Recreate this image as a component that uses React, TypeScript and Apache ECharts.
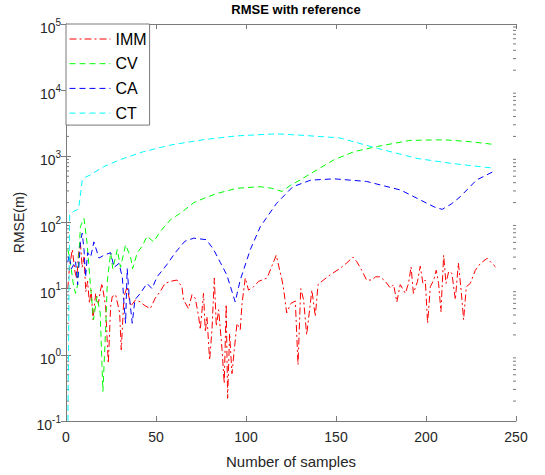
import React, { useEffect, useRef } from "react";
import * as echarts from "echarts";

// RMSE of each filter against the reference trajectory, as [sample, RMSE (m)] pairs.
const immData: [number, number][] = [
  [1, 10], [2, 22], [3.5, 39], [5, 18], [6, 14], [7, 35], [8, 49], [9, 21], [10, 30],
  [11, 9], [12, 13], [13, 6], [14, 9.5], [15, 3.4], [16.5, 8.5], [18, 6], [19, 9], [20, 12],
  [22, 5.4], [23.5, 0.74], [24.8, 5.4], [25.7, 7.6], [27.6, 8.1], [29.8, 4.3], [30.7, 1.19],
  [32.2, 7.6], [34, 10.7], [35.9, 5.4], [38.7, 6.8], [41.3, 6.3], [44, 5.5], [46.8, 5.0],
  [49.6, 7.2], [52.4, 9.1], [55, 12], [58, 12.9], [61.6, 13.5], [64.4, 10.7], [65.3, 6.8],
  [68, 5.0], [70, 8.1], [71.8, 7.2], [73.7, 3.8], [74.6, 2.4], [76.4, 8.5], [77.4, 2.2],
  [78.3, 3.8], [79.8, 0.83], [81.1, 2.4], [82.4, 14.5], [83.5, 2.7], [84.8, 4.8], [86.7, 1.2],
  [87.9, 0.37], [89, 5.8], [89.8, 0.22], [90.9, 2.1], [92.2, 0.52], [93.5, 1.2], [95, 3.0],
  [96.8, 2.4], [97.8, 6.0], [99.6, 14.5], [101.4, 9.5], [104.2, 10.7], [107, 12.9],
  [111.7, 14.5], [116.8, 32], [120, 13.5], [121, 9.5], [122.6, 4.3], [125, 6.0], [127.4, 6.5],
  [128.9, 0.71], [130.4, 10], [132, 6.8], [133.7, 2.0], [136.6, 9.5], [138.5, 3.8], [140, 11.5],
  [143, 13.5], [146.8, 16.2], [152.4, 20.4], [156, 24.5], [159.4, 30], [161.5, 25.7],
  [164.3, 19], [167, 13.5], [170, 13.5], [172, 15.1], [174.6, 15.1], [177.4, 12.9],
  [180.2, 10.2], [182, 11.5], [183.8, 6.3], [185.7, 11.5], [188.5, 8.5], [190.3, 12],
  [191.7, 21.4], [193, 8.5], [195.3, 12.9], [196.8, 21.9], [198.3, 12], [199.6, 13.5],
  [200.9, 3.0], [202.4, 10.7], [204.3, 13.5], [205.7, 19], [207, 12], [208.3, 4.5],
  [209.8, 32], [211.1, 12], [212.6, 18.2], [214.4, 17], [216.3, 6.8], [218, 24.5],
  [219.5, 9.5], [220.9, 3.4], [222.4, 10.7], [224.6, 12], [227.4, 19], [230.2, 24],
  [234, 28.8], [236.7, 24], [238.6, 21.4],
];

const cvData: [number, number][] = [
  [1, 39], [2, 30], [4, 12], [5.3, 8.5], [6.3, 11], [8, 87], [10, 115], [11.7, 49],
  [13.5, 12], [15.3, 3.4], [17.2, 7.6], [19, 4.3], [20.5, 0.28], [22, 2.4], [23, 13.5],
  [24.8, 35], [26, 20], [28.5, 39], [30.3, 21], [33.1, 46], [35.9, 30], [37, 20], [39.6, 35],
  [42.4, 44], [45, 62], [48.7, 51], [52, 71], [58, 110], [64, 141], [71, 200], [78, 240],
  [84, 275], [95, 330], [108, 347], [114, 330], [120, 295], [125, 370], [130, 437], [136, 550],
  [149, 890], [160, 1175], [173, 1410], [191, 1740], [210, 1780], [225, 1660], [238, 1510],
];

const caData: [number, number][] = [
  [1, 25], [1.7, 32], [3, 20], [5.3, 26], [6.5, 11.5], [8, 50], [9, 69], [10, 39], [10.9, 15],
  [12, 35], [13.7, 30], [15.5, 51], [18.3, 29], [21.1, 32], [24.8, 35], [26.7, 21], [29.4, 24],
  [31.3, 15], [32.2, 6], [33.1, 3.0], [34, 20], [35, 8.5], [36.8, 3.0], [38.3, 6.8], [41.3, 8.5],
  [45, 12], [47.8, 10], [50.5, 15], [56, 23], [60.7, 35], [66, 52], [71, 58], [78, 55],
  [82, 39], [85.7, 25], [89.4, 16], [94, 6.3], [96.8, 13.5], [102.4, 39], [108, 87],
  [117, 195], [126, 347], [136, 437], [149, 457], [167, 417], [186, 309], [200.5, 195],
  [205, 170], [209, 158], [214, 190], [219, 245], [228, 437], [238, 600],
];

const ctData: [number, number][] = [
  [1, 0.05], [2, 130], [4, 146], [7, 160], [9, 430], [10, 470], [13.5, 525], [21, 700],
  [30, 890], [43, 1175], [58, 1480], [76, 1780], [95, 2040], [117, 2190], [130, 2090],
  [152, 1900], [173, 1320], [195, 930], [213, 790], [238, 660],
];

const seriesNames = ["IMM", "CV", "CA", "CT"];
const seriesColors = ["#ff0000", "#00ff00", "#0000ff", "#00ffff"];
const xTicks = [0, 250, 50]; // min, max, step
const yDecades = [-1, 5]; // 10^-1 .. 10^5

const FONT = "'Liberation Sans', Arial, Helvetica, sans-serif";
const AXIS_COLOR = "#7a7a7a";
const TEXT_COLOR = "#262626";

// Minor ticks at 2..9 x 10^k on the log axis
const minorTickValues: number[] = [];
for (let k = yDecades[0]; k < yDecades[1]; k++) {
  for (let m = 2; m <= 9; m++) minorTickValues.push(m * Math.pow(10, k));
}

export default function App() {
  const ref = useRef<HTMLDivElement>(null);

  useEffect(() => {
    if (!ref.current) return;
    const chart = echarts.init(ref.current, undefined, { renderer: "svg" });

    const powLabel = (v: number) => {
      const e = Math.round(Math.log10(v));
      return `{b|10}{s|${e}}`;
    };

    const richLabel = {
      b: { fontSize: 14, fontFamily: FONT, color: TEXT_COLOR, padding: [8, 0, 0, 0] },
      s: { fontSize: 10, fontFamily: FONT, color: TEXT_COLOR, padding: [0, 0, 4, 0] },
    };

    const lineSeries = (name: string, data: [number, number][], color: string, dash: number[]) => ({
      name,
      type: "line",
      data,
      symbol: "none",
      showSymbol: false,
      clip: true,
      color,
      lineStyle: { color, width: 1, type: dash },
      emphasis: { disabled: true },
    });

    chart.setOption({
      animation: false,
      backgroundColor: "#ffffff",
      title: {
        text: "RMSE with reference",
        left: 291,
        top: -2,
        textAlign: "center",
        textStyle: { fontFamily: FONT, fontSize: 13, fontWeight: "bold", color: "#000" },
      },
      legend: {
        data: seriesNames,
        orient: "vertical",
        left: 66,
        top: 24,
        itemWidth: 41,
        itemHeight: 14,
        itemGap: 8.7,
        padding: [7, 3, 4, 3],
        borderColor: AXIS_COLOR,
        borderWidth: 1,
        backgroundColor: "#ffffff",
        itemStyle: { opacity: 0 },
        lineStyle: { width: 1 },
        textStyle: { fontFamily: FONT, fontSize: 16, color: "#000" },
        z: 10,
      },
      grid: { left: 66, right: 29, top: 24, bottom: 54, containLabel: false },
      xAxis: [
        {
          type: "value",
          min: xTicks[0],
          max: xTicks[1],
          interval: xTicks[2],
          name: "Number of samples",
          nameLocation: "middle",
          nameGap: 33,
          nameTextStyle: { fontFamily: FONT, fontSize: 15, color: TEXT_COLOR },
          axisLine: { show: true, lineStyle: { color: AXIS_COLOR, width: 1 } },
          axisTick: { show: true, inside: true, length: 5, lineStyle: { color: AXIS_COLOR } },
          axisLabel: { fontFamily: FONT, fontSize: 14, color: TEXT_COLOR, margin: 9 },
          splitLine: { show: false },
        },
        {
          type: "value",
          position: "top",
          min: xTicks[0],
          max: xTicks[1],
          interval: xTicks[2],
          axisLine: { show: true, lineStyle: { color: AXIS_COLOR, width: 1 } },
          axisTick: { show: true, inside: true, length: 5, lineStyle: { color: AXIS_COLOR } },
          axisLabel: { show: false },
          splitLine: { show: false },
        },
      ],
      yAxis: [
        {
          type: "log",
          logBase: 10,
          min: Math.pow(10, yDecades[0]),
          max: Math.pow(10, yDecades[1]),
          name: "RMSE(m)",
          nameLocation: "middle",
          nameGap: 37,
          nameTextStyle: { fontFamily: FONT, fontSize: 14, color: TEXT_COLOR },
          axisLine: { show: true, lineStyle: { color: AXIS_COLOR, width: 1 } },
          axisTick: { show: true, inside: true, length: 5, lineStyle: { color: AXIS_COLOR } },
          axisLabel: { formatter: powLabel, rich: richLabel, margin: 5 },
          splitLine: { show: false },
        },
        {
          type: "log",
          logBase: 10,
          position: "right",
          min: Math.pow(10, yDecades[0]),
          max: Math.pow(10, yDecades[1]),
          axisLine: { show: true, lineStyle: { color: AXIS_COLOR, width: 1 } },
          axisTick: { show: true, inside: true, length: 5, lineStyle: { color: AXIS_COLOR } },
          axisLabel: { show: false },
          splitLine: { show: false },
        },
      ],
      series: [
        lineSeries(seriesNames[0], immData, seriesColors[0], [7, 3, 2, 3]),
        lineSeries(seriesNames[1], cvData, seriesColors[1], [6, 4]),
        lineSeries(seriesNames[2], caData, seriesColors[2], [6, 4]),
        lineSeries(seriesNames[3], ctData, seriesColors[3], [6, 4]),
        {
          name: "minorTicks",
          type: "custom",
          silent: true,
          xAxisIndex: 0,
          yAxisIndex: 0,
          data: minorTickValues.map((v) => [0, v]),
          renderItem: (params: any, api: any) => {
            const y = api.coord([0, api.value(1)])[1];
            const cs = params.coordSys;
            const style = { stroke: AXIS_COLOR, lineWidth: 1 };
            return {
              type: "group",
              children: [
                { type: "line", shape: { x1: cs.x, y1: y, x2: cs.x + 3, y2: y }, style },
                {
                  type: "line",
                  shape: { x1: cs.x + cs.width - 3, y1: y, x2: cs.x + cs.width, y2: y },
                  style,
                },
              ],
            };
          },
        },
      ],
    });

    return () => chart.dispose();
  }, []);

  return (
    <div
      ref={ref}
      style={{ position: "fixed", left: 0, top: 0, width: 545, height: 475, background: "#fff" }}
    />
  );
}
